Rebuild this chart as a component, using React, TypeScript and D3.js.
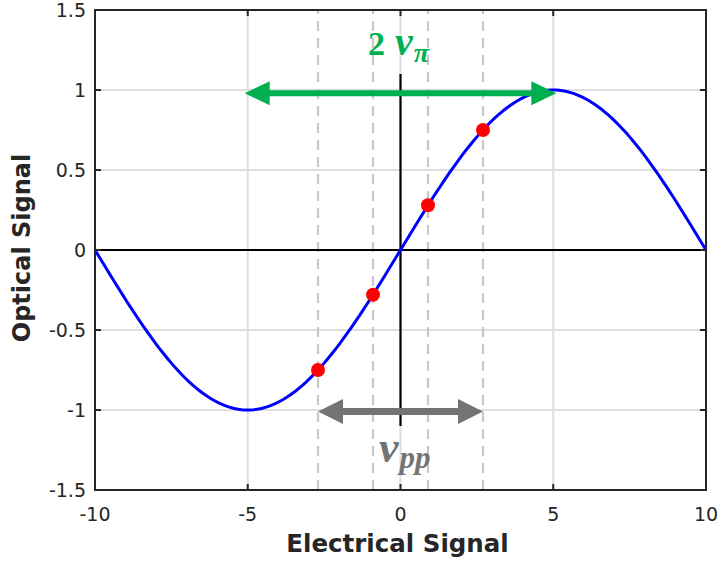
import React from "react";
import * as d3 from "d3";

const W = 721, H = 563;
const margin = { left: 95, right: 15, top: 10, bottom: 73 };
const xDomain = [-10, 10];
const yDomain = [-1.5, 1.5];
const xTicks = [-10, -5, 0, 5, 10];
const yTicks = [-1.5, -1, -0.5, 0, 0.5, 1, 1.5];
// sampled sine transfer curve values (x, y)
const curveX = d3.range(-10, 10.001, 0.1);
const curveY = curveX.map((x) => Math.sin((Math.PI * x) / 10));
const pointX = [-2.7, -0.9, 0.9, 2.7];
const pointY = [-0.75, -0.28, 0.28, 0.75];
const dashedX = [-2.7, -0.9, 0.9, 2.7];
const greenArrow = { x0: -5.1, x1: 5.1, y: 0.98 };
const grayArrow = { x0: -2.7, x1: 2.7, y: -1.01 };

export default function App() {
  const x = d3.scaleLinear().domain(xDomain).range([margin.left, W - margin.right]);
  const y = d3.scaleLinear().domain(yDomain).range([H - margin.bottom, margin.top]);
  const line = d3
    .line<number>()
    .x((_, i) => x(curveX[i]))
    .y((d) => y(d));
  const x0 = x.range()[0], x1 = x.range()[1];
  const y0 = y.range()[0], y1 = y.range()[1];
  const axisColor = "#262626";

  const arrow = (a: { x0: number; x1: number; y: number }, color: string, headL: number, headH: number, sw: number) => {
    const L = x(a.x0), R = x(a.x1), Y = y(a.y);
    return (
      <g>
        <line x1={L + headL - 1} x2={R - headL + 1} y1={Y} y2={Y} stroke={color} strokeWidth={sw} />
        <path d={`M${L},${Y} L${L + headL},${Y - headH / 2} L${L + headL},${Y + headH / 2} Z`} fill={color} />
        <path d={`M${R},${Y} L${R - headL},${Y - headH / 2} L${R - headL},${Y + headH / 2} Z`} fill={color} />
      </g>
    );
  };

  return (
    <svg width={W} height={H} style={{ position: "absolute", left: 0, top: 0 }} fontFamily="DejaVu Sans">
      <rect width={W} height={H} fill="#fff" />
      {/* grid */}
      {xTicks.map((t) => (
        <line key={"gx" + t} x1={x(t)} x2={x(t)} y1={y0} y2={y1} stroke="#dedede" strokeWidth={2} />
      ))}
      {yTicks.map((t) => (
        <line key={"gy" + t} x1={x0} x2={x1} y1={y(t)} y2={y(t)} stroke="#dedede" strokeWidth={2} />
      ))}
      {/* dashed lines */}
      {dashedX.map((t) => (
        <line key={"d" + t} x1={x(t)} x2={x(t)} y1={y0} y2={y1} stroke="#c8c8c8" strokeWidth={2.2} strokeDasharray="10,7" />
      ))}
      {/* black axes through origin */}
      <line x1={x0} x2={x1} y1={y(0)} y2={y(0)} stroke="#000" strokeWidth={2.2} />
      <line x1={x(0)} x2={x(0)} y1={y(-1.1)} y2={y(1.1)} stroke="#000" strokeWidth={2.2} />
      {/* curve */}
      <path d={line(curveY) || ""} fill="none" stroke="#0000ff" strokeWidth={3} />
      {/* points */}
      {pointX.map((px, i) => (
        <circle key={"p" + i} cx={x(px)} cy={y(pointY[i])} r={7} fill="#ff0000" />
      ))}
      {/* arrows */}
      {arrow(greenArrow, "#00b050", 25, 24, 6)}
      {arrow(grayArrow, "#737373", 25, 25, 7)}
      {/* annotation labels */}
      <text x={368} y={55} fill="#00b050" fontFamily="Liberation Serif" fontWeight="bold" fontSize={34}>
        2
        <tspan dx={10} fontStyle="italic" fontSize={40}>v</tspan>
        <tspan fontStyle="italic" fontSize={28} dy={7} dx={1}>π</tspan>
      </text>
      <text x={379} y={462} fill="#737373" fontFamily="Liberation Serif" fontWeight="bold" fontSize={44}>
        <tspan fontStyle="italic">v</tspan>
        <tspan fontStyle="italic" fontSize={31} dy={6} dx={1}>pp</tspan>
      </text>
      {/* box */}
      <rect x={x0} y={y1} width={x1 - x0} height={y0 - y1} fill="none" stroke={axisColor} strokeWidth={2} />
      {/* ticks */}
      {xTicks.map((t) => (
        <g key={"tx" + t}>
          <line x1={x(t)} x2={x(t)} y1={y0} y2={y0 - 6} stroke={axisColor} strokeWidth={2} />
          <line x1={x(t)} x2={x(t)} y1={y1} y2={y1 + 6} stroke={axisColor} strokeWidth={2} />
          <text x={x(t)} y={521} textAnchor="middle" fontSize={19} fill={axisColor}>
            {t}
          </text>
        </g>
      ))}
      {yTicks.map((t) => (
        <g key={"ty" + t}>
          <line x1={x0} x2={x0 + 6} y1={y(t)} y2={y(t)} stroke={axisColor} strokeWidth={2} />
          <line x1={x1} x2={x1 - 6} y1={y(t)} y2={y(t)} stroke={axisColor} strokeWidth={2} />
          <text x={86} y={y(t) + 7} textAnchor="end" fontSize={19} fill={axisColor}>
            {t}
          </text>
        </g>
      ))}
      {/* axis labels */}
      <text x={(x0 + x1) / 2 - 3} y={552} textAnchor="middle" fontSize={24.5} fontWeight="bold" fill={axisColor}>
        Electrical Signal
      </text>
      <text transform={`translate(30,${(y0 + y1) / 2 - 2}) rotate(-90)`} textAnchor="middle" fontSize={24} fontWeight="bold" fill={axisColor}>
        Optical Signal
      </text>
    </svg>
  );
}
